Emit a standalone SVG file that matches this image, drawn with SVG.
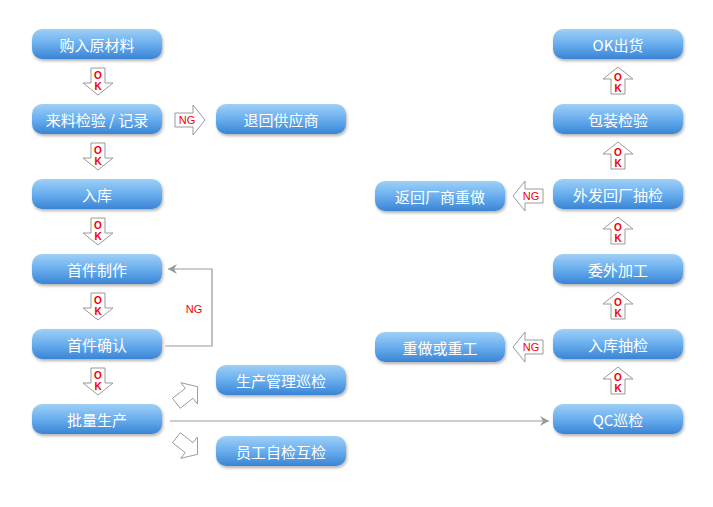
<svg xmlns="http://www.w3.org/2000/svg" width="713" height="507" viewBox="0 0 713 507">
<defs>
<linearGradient id="g" x1="0" y1="0" x2="0" y2="1"><stop offset="0" stop-color="#9fd0f7"/><stop offset="0.5" stop-color="#69aeee"/><stop offset="1" stop-color="#3a84d4"/></linearGradient>
<filter id="sh" x="-10%" y="-20%" width="120%" height="160%"><feDropShadow dx="1" dy="2" stdDeviation="1.5" flood-color="#000" flood-opacity="0.3"/></filter>
<path id="okd" d="M-7,-13 H7 V2 H15 L0,14 L-15,2 H-7 Z" fill="#fff" stroke="#999" stroke-width="1"/>
<path id="ngr" d="M-15,-7 H3 V-15 L15,0 L3,15 V7 H-15 Z" fill="#fff" stroke="#999" stroke-width="1"/>
<marker id="ah" markerWidth="10" markerHeight="10" refX="9" refY="5" orient="auto" markerUnits="userSpaceOnUse"><path d="M0,0 L9,5 L0,10 L3,5 Z" fill="#999"/></marker>
</defs>
<style>
.n{fill:url(#g);filter:url(#sh)}
.t{font-family:"Noto Sans CJK SC","Liberation Sans",sans-serif;font-size:15px;fill:#fff;text-anchor:middle;dominant-baseline:central}
.ok{font-family:"Liberation Sans",sans-serif;font-size:10px;font-weight:bold;fill:#e00;text-anchor:middle;dominant-baseline:central}
.ng{font-family:"Liberation Sans",sans-serif;font-size:11px;fill:#e00;text-anchor:middle;dominant-baseline:central}
.c{fill:none;stroke:#999;stroke-width:1.2}
</style>
<rect width="713" height="507" fill="#fff"/>
<g id="connectors">
<polyline class="c" points="165,346 212,346 212,269 168,269" marker-end="url(#ah)"/>
<text class="ng" x="194" y="309" font-size="12">NG</text>
<line class="c" x1="170" y1="421" x2="549" y2="421" marker-end="url(#ah)"/>
<g><use href="#okd" x="98" y="81"/><text class="ok" x="98" y="75">O</text><text class="ok" x="98" y="86">K</text></g>
<g><use href="#okd" x="98" y="156"/><text class="ok" x="98" y="150">O</text><text class="ok" x="98" y="161">K</text></g>
<g><use href="#okd" x="98" y="231"/><text class="ok" x="98" y="225">O</text><text class="ok" x="98" y="236">K</text></g>
<g><use href="#okd" x="98" y="306"/><text class="ok" x="98" y="300">O</text><text class="ok" x="98" y="311">K</text></g>
<g><use href="#okd" x="98" y="381"/><text class="ok" x="98" y="375">O</text><text class="ok" x="98" y="386">K</text></g>
<g><use href="#okd" transform="translate(618,81) rotate(180)"/><text class="ok" x="618" y="77">O</text><text class="ok" x="618" y="88">K</text></g>
<g><use href="#okd" transform="translate(618,156) rotate(180)"/><text class="ok" x="618" y="152">O</text><text class="ok" x="618" y="163">K</text></g>
<g><use href="#okd" transform="translate(618,231) rotate(180)"/><text class="ok" x="618" y="227">O</text><text class="ok" x="618" y="238">K</text></g>
<g><use href="#okd" transform="translate(618,306) rotate(180)"/><text class="ok" x="618" y="302">O</text><text class="ok" x="618" y="313">K</text></g>
<g><use href="#okd" transform="translate(618,381) rotate(180)"/><text class="ok" x="618" y="377">O</text><text class="ok" x="618" y="388">K</text></g>
<g><use href="#ngr" x="190" y="120"/><text class="ng" x="187" y="120">NG</text></g>
<g><use href="#ngr" transform="translate(528,196) rotate(180)"/><text class="ng" x="531" y="196">NG</text></g>
<g><use href="#ngr" transform="translate(528,347) rotate(180)"/><text class="ng" x="531" y="347">NG</text></g>
<use href="#ngr" transform="translate(187,395) rotate(-38) scale(0.9)"/>
<use href="#ngr" transform="translate(187,446) rotate(38) scale(0.9)"/>
</g>
<g id="n1"><rect class="n" x="32" y="29" width="130" height="30" rx="10"/><text class="t" x="97" y="44">购入原材料</text></g>
<g id="n2"><rect class="n" x="32" y="104" width="130" height="30" rx="10"/><text class="t" x="97" y="119">来料检验 / 记录</text></g>
<g id="n3"><rect class="n" x="32" y="179" width="130" height="30" rx="10"/><text class="t" x="97" y="194">入库</text></g>
<g id="n4"><rect class="n" x="32" y="254" width="130" height="30" rx="10"/><text class="t" x="97" y="269">首件制作</text></g>
<g id="n5"><rect class="n" x="32" y="329" width="130" height="30" rx="10"/><text class="t" x="97" y="344">首件确认</text></g>
<g id="n6"><rect class="n" x="32" y="404" width="130" height="30" rx="10"/><text class="t" x="97" y="419">批量生产</text></g>
<g id="n7"><rect class="n" x="216" y="104" width="130" height="30" rx="10"/><text class="t" x="281" y="119">退回供应商</text></g>
<g id="n8"><rect class="n" x="216" y="365" width="130" height="30" rx="10"/><text class="t" x="281" y="380">生产管理巡检</text></g>
<g id="n9"><rect class="n" x="216" y="436" width="130" height="30" rx="10"/><text class="t" x="281" y="451">员工自检互检</text></g>
<g id="n10"><rect class="n" x="375" y="181" width="130" height="30" rx="10"/><text class="t" x="440" y="196">返回厂商重做</text></g>
<g id="n11"><rect class="n" x="375" y="332" width="130" height="30" rx="10"/><text class="t" x="440" y="347">重做或重工</text></g>
<g id="n12"><rect class="n" x="553" y="29" width="130" height="30" rx="10"/><text class="t" x="618" y="44">OK出货</text></g>
<g id="n13"><rect class="n" x="553" y="104" width="130" height="30" rx="10"/><text class="t" x="618" y="119">包装检验</text></g>
<g id="n14"><rect class="n" x="553" y="179" width="130" height="30" rx="10"/><text class="t" x="618" y="194">外发回厂抽检</text></g>
<g id="n15"><rect class="n" x="553" y="254" width="130" height="30" rx="10"/><text class="t" x="618" y="269">委外加工</text></g>
<g id="n16"><rect class="n" x="553" y="329" width="130" height="30" rx="10"/><text class="t" x="618" y="344">入库抽检</text></g>
<g id="n17"><rect class="n" x="553" y="404" width="130" height="30" rx="10"/><text class="t" x="618" y="419">QC巡检</text></g>
</svg>
